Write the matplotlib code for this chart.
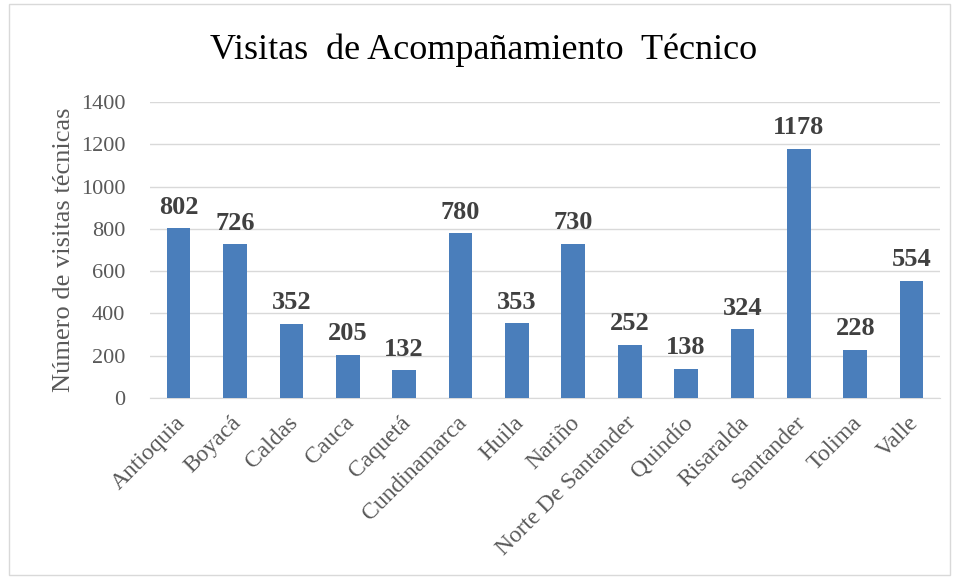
import matplotlib.pyplot as plt
from matplotlib.patches import Rectangle
from matplotlib.transforms import ScaledTranslation

# Data
departamentos = ['Antioquia', 'Boyacá', 'Caldas', 'Cauca', 'Caquetá', 'Cundinamarca',
                 'Huila', 'Nariño', 'Norte De Santander', 'Quindío', 'Risaralda',
                 'Santander', 'Tolima', 'Valle']
visitas = [802, 726, 352, 205, 132, 780, 353, 730, 252, 138, 324, 1178, 228, 554]
yticks = [0, 200, 400, 600, 800, 1000, 1200, 1400]

plt.rcParams['font.family'] = ['Liberation Serif', 'DejaVu Serif']

fig = plt.figure(figsize=(9.58, 5.79), dpi=100)
ax = fig.add_axes([0.157, 0.3126, 0.824, 0.5114])

# Light frame around the chart area
fig.patches.append(Rectangle((0.009, 0.007), 0.983, 0.986, transform=fig.transFigure,
                             fill=False, edgecolor='#d9d9d9', linewidth=1))

x = range(len(departamentos))
ax.bar(x, visitas, width=0.42, color='#4a7ebb', zorder=3)

for xi, v in zip(x, visitas):
    ax.text(xi, v + 45, str(v), ha='center', va='bottom', fontsize=19,
            fontweight='bold', color='#404040')

ax.set_xlim(-0.5, len(departamentos) - 0.5)
ax.set_ylim(0, 1400)
ax.set_yticks(yticks)
ax.set_xticks(list(x))
ax.set_xticklabels([])
ax.tick_params(axis='y', labelsize=16, labelcolor='#595959', length=0, pad=18)
ax.tick_params(axis='x', length=0)

# Rotated category labels, anchored just below each bar
lbl_tr = ax.get_xaxis_transform() + ScaledTranslation(-0.04, -0.14, fig.dpi_scale_trans)
for xi, name in zip(x, departamentos):
    ax.text(xi, 0, name, transform=lbl_tr, rotation=45, ha='right', va='top',
            rotation_mode='anchor', fontsize=17, color='#595959')

ax.grid(axis='y', color='#d9d9d9', linewidth=1, zorder=0)
for s in ['top', 'right', 'left']:
    ax.spines[s].set_visible(False)
ax.spines['bottom'].set_color('#d9d9d9')

ax.set_ylabel('Número de visitas técnicas', fontsize=19, color='#595959', labelpad=4)
fig.text(0.505, 0.914, 'Visitas  de Acompañamiento  Técnico', ha='center', va='center',
         fontsize=26, color='#000000')

fig.savefig('out.png', dpi=100)
